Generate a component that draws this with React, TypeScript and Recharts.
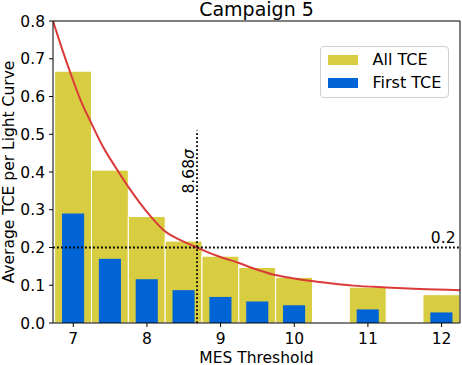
import {
  ComposedChart,
  Bar,
  Line,
  XAxis,
  YAxis,
  ReferenceLine,
  Label,
} from 'recharts';

const thresholds = [7, 7.5, 8, 8.5, 9, 9.5, 10, 11, 12];
const allTce = [0.667, 0.405, 0.282, 0.217, 0.177, 0.147, 0.121, 0.095, 0.075];
const firstTce = [0.29, 0.17, 0.116, 0.087, 0.069, 0.057, 0.047, 0.036, 0.028];

// fitted trend
const fitX = [6.725, 6.85, 6.955, 7.1, 7.236, 7.4, 7.589, 7.75, 8.04, 8.245, 8.45, 8.68, 8.95, 9.25, 9.44, 9.74, 10.0, 10.24, 10.5, 10.8, 11.25, 11.7, 12.25];
const fitY = [0.8, 0.725, 0.666, 0.59, 0.533, 0.468, 0.408, 0.36, 0.285, 0.243, 0.22, 0.2, 0.178, 0.159, 0.145, 0.127, 0.118, 0.111, 0.105, 0.099, 0.094, 0.09, 0.087];

const xTicks = [7, 8, 9, 10, 11, 12];
const yTicks = [0, 0.1, 0.2, 0.3, 0.4, 0.5, 0.6, 0.7, 0.8];

const cutoff = 8.68;
const cutoffTop = 0.51;
const rateLevel = 0.2;

const W = 462;
const H = 365;
const M = { top: 20, right: 1, left: 0, bottom: 0 };
const Y_W = 53;
const X_H = 42;
const X_DOMAIN: [number, number] = [6.725, 12.25];
const pxPerUnit = (W - M.left - M.right - 1 - Y_W) / (X_DOMAIN[1] - X_DOMAIN[0]);

const FONT = '"DejaVu Sans", sans-serif';
const FS = 15.5;
const YELLOW = '#d8cc40';
const BLUE = '#0064d6';
const RED = '#d93a3a';

const rows: { x: number; all?: number; first?: number; fit?: number }[] = [];
thresholds.forEach((t, i) => rows.push({ x: t, all: allTce[i], first: firstTce[i] }));
fitX.forEach((x, i) => rows.push({ x, fit: fitY[i] }));
rows.sort((a, b) => a.x - b.x);

const tickStyle = { fill: '#000', fontSize: FS, fontFamily: FONT };

// bars on a numeric axis: keep recharts' centre, set the width in data units
const barShape = (units: number, fill: string, stroke?: string) => (p: any) => {
  if (!p.height || p.value == null) return <g />;
  const w = units * pxPerUnit;
  const cx = p.x + p.width / 2;
  return <rect x={cx - w / 2} y={p.y} width={w} height={p.height} fill={fill} stroke={stroke || 'none'} strokeWidth={1} />;
};

function YTitle({ viewBox }: any) {
  const cx = viewBox.x + 13.5;
  const cy = viewBox.y + viewBox.height / 2;
  return (
    <text x={cx} y={cy} transform={`rotate(-90, ${cx}, ${cy})`} textAnchor="middle" fontSize={FS} fontFamily={FONT} fill="#000">
      Average TCE per Light Curve
    </text>
  );
}

function CutoffLabel({ viewBox }: any) {
  const cx = viewBox.x - 3;
  const cy = viewBox.y + 63;
  return (
    <text x={cx} y={cy} transform={`rotate(-90, ${cx}, ${cy})`} textAnchor="start" fontSize={FS} fontFamily={FONT} fill="#000">
      {cutoff.toFixed(2)}
      <tspan fontStyle="italic">σ</tspan>
    </text>
  );
}

const legendItems = [
  { name: 'All TCE', color: YELLOW },
  { name: 'First TCE', color: BLUE },
];

export default function App() {
  return (
    <div style={{ position: 'absolute', left: 0, top: 0, width: W, height: H, fontFamily: FONT, background: '#fff' }}>
      <div
        style={{
          position: 'absolute',
          left: Y_W,
          width: W - Y_W - 2,
          top: 1,
          textAlign: 'center',
          fontSize: 19,
          lineHeight: '16px',
          color: '#000',
        }}
      >
        Campaign 5
      </div>
      <ComposedChart width={W} height={H} data={rows} margin={M}>
        <XAxis
          xAxisId="main"
          dataKey="x"
          type="number"
          domain={X_DOMAIN}
          allowDataOverflow
          ticks={xTicks}
          height={X_H}
          tickSize={4}
          tickMargin={6}
          tick={tickStyle}
          axisLine={{ stroke: '#000' }}
          tickLine={{ stroke: '#000' }}
        >
          <Label value="MES Threshold" position="insideBottom" offset={2.5} style={{ fontSize: FS, fontFamily: FONT, fill: '#000' }} />
        </XAxis>
        <XAxis
          xAxisId="top"
          orientation="top"
          dataKey="x"
          type="number"
          domain={X_DOMAIN}
          allowDataOverflow
          height={1}
          tick={false}
          tickLine={false}
          axisLine={{ stroke: '#000' }}
        />
        <YAxis
          domain={[0, 0.8]}
          ticks={yTicks}
          width={Y_W}
          allowDataOverflow
          tickFormatter={(v: number) => v.toFixed(1)}
          tickSize={4}
          tickMargin={4}
          tick={tickStyle}
          axisLine={{ stroke: '#000' }}
          tickLine={{ stroke: '#000' }}
        >
          <Label content={YTitle} />
        </YAxis>
        <YAxis
          yAxisId="right"
          orientation="right"
          domain={[0, 0.8]}
          allowDataOverflow
          width={1}
          tick={false}
          tickLine={false}
          axisLine={{ stroke: '#000' }}
        />
        <Bar
          xAxisId="main"
          dataKey="all"
          shape={barShape(0.5, YELLOW, '#fff')}
          fill={YELLOW}
          isAnimationActive={false}
        />
        <Bar
          xAxisId="top"
          yAxisId="right"
          dataKey="first"
          shape={barShape(0.3, BLUE)}
          fill={BLUE}
          isAnimationActive={false}
        />
        <Line
          xAxisId="main"
          dataKey="fit"
          type="monotone"
          stroke={RED}
          strokeWidth={2}
          dot={false}
          connectNulls
          isAnimationActive={false}
        />
        <ReferenceLine
          xAxisId="main"
          y={rateLevel}
          stroke="#000"
          strokeWidth={1.8}
          strokeDasharray="1.8 2.2"
        >
          <Label value={String(rateLevel)} position="insideBottomRight" offset={4.5} style={{ fontSize: FS, fontFamily: FONT, fill: '#000' }} />
        </ReferenceLine>
        <ReferenceLine
          xAxisId="main"
          segment={[{ x: cutoff, y: 0 }, { x: cutoff, y: cutoffTop }]}
          stroke="#000"
          strokeWidth={1.8}
          strokeDasharray="1.8 2.2"
        >
          <Label content={CutoffLabel} />
        </ReferenceLine>
      </ComposedChart>
      <div
        style={{
          position: 'absolute',
          left: 320,
          top: 46,
          width: 127,
          height: 50,
          border: '1px solid #d0d0d0',
          borderRadius: 4,
          background: 'rgba(255,255,255,0.8)',
          fontSize: 16,
          color: '#000',
        }}
      >
        {legendItems.map((it, i) => (
          <div key={it.name} style={{ position: 'absolute', left: 7, top: 6 + i * 23, height: 14, display: 'flex', alignItems: 'center' }}>
            <span style={{ display: 'inline-block', width: 30, height: 10.5, background: it.color }} />
            <span style={{ marginLeft: 14.5, lineHeight: '14px' }}>{it.name}</span>
          </div>
        ))}
      </div>
    </div>
  );
}
